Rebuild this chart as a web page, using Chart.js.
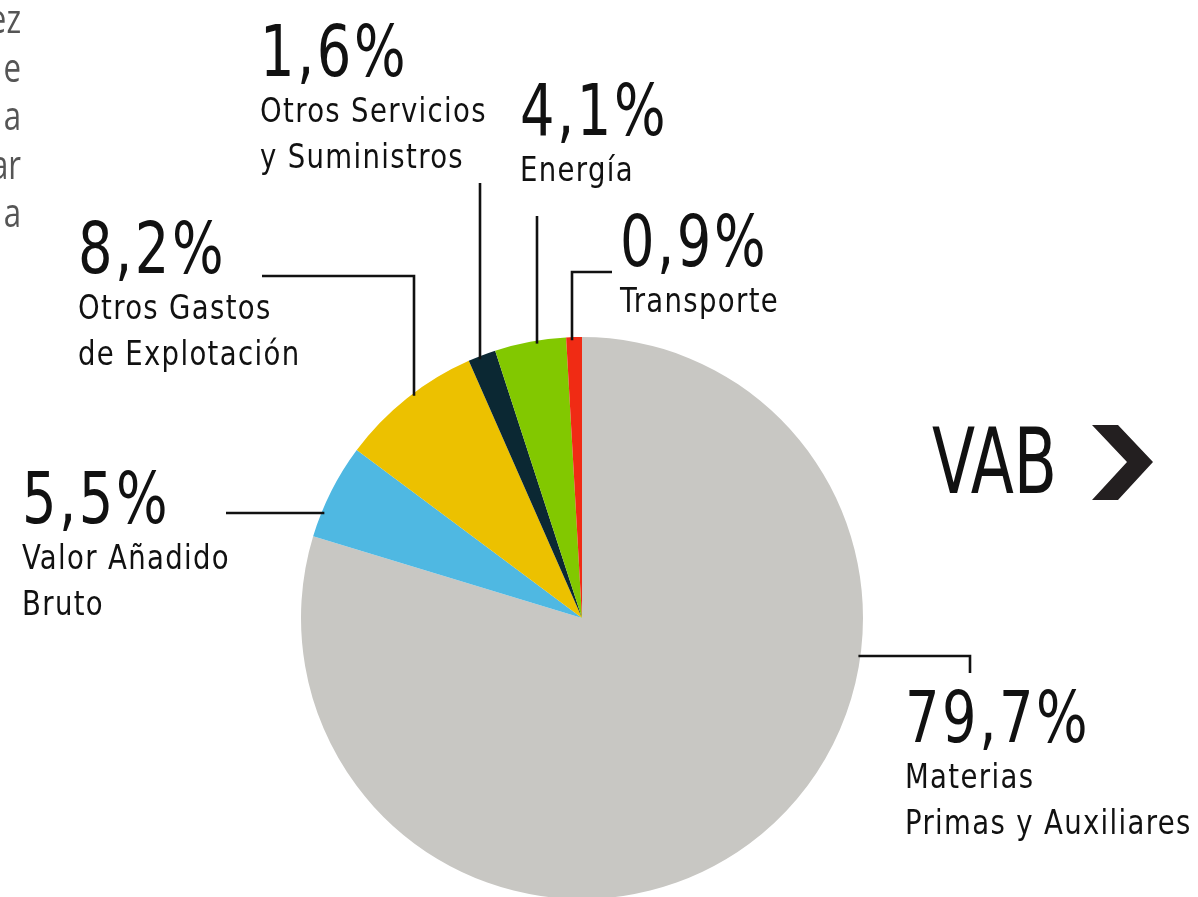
<!DOCTYPE html>
<html><head><meta charset="utf-8">
<script src="https://cdn.jsdelivr.net/npm/chart.js@4.4.1/dist/chart.umd.min.js"></script>
<style>
html,body{margin:0;padding:0;background:#fff;overflow:hidden;width:1198px;height:897px;}
canvas{display:block;}
</style></head>
<body>
<canvas id="c" width="1198" height="960"></canvas>
<script>
// ---- data ----
const categories = ['Materias Primas y Auxiliares','Valor Añadido Bruto','Otros Gastos de Explotación','Otros Servicios y Suministros','Energía','Transporte'];
const values = [79.7, 5.5, 8.2, 1.6, 4.1, 0.9];
const labelLines = [['Materias','Primas y Auxiliares'],['Valor Añadido','Bruto'],['Otros Gastos','de Explotación'],['Otros Servicios','y Suministros'],['Energía'],['Transporte']];
const sideFragments = ['ez','e','a','ar','a'];
const colors = ['#c8c7c3','#4fb8e2','#ecc100','#0b2833','#82c800','#f02b14'];

// ---- annotation layout (positions only) ----
const layout = [
  {tx:905, ty:742, lead:{edge:'right', y:656, pts:[[970,656],[970,673]]}},
  {tx:22,  ty:523, lead:{edge:'left',  y:513, pts:[[226,513]]}},
  {tx:78,  ty:273, lead:{edge:'top',   x:414, pts:[[414,276],[262,276]]}},
  {tx:260, ty:76,  lead:{edge:'top',   x:480, pts:[[480,183]]}},
  {tx:520, ty:135, lead:{edge:'top',   x:537, pts:[[537,216]]}},
  {tx:620, ty:266, lead:{edge:'top',   x:572, pts:[[572,272],[612,272]]}}
];

const fmt = v => v.toFixed(1).replace('.', ',') + '%';
const FONT = '"DejaVu Sans Condensed","Liberation Sans Narrow",sans-serif';

function drawText(ctx, t, x, y, font, sx, spacing, align) {
  ctx.save();
  ctx.font = font; ctx.letterSpacing = spacing + 'px';
  ctx.textAlign = align || 'left';
  ctx.translate(x, y); ctx.scale(sx, 1);
  ctx.fillText(t, 0, 0);
  ctx.restore();
}

const annot = {
  id:'annot',
  afterDraw(chart){
    const ctx = chart.ctx;
    const arc = chart.getDatasetMeta(0).data[0];
    const cx = arc.x, cy = arc.y, r = arc.outerRadius;
    ctx.save();
    // leaders
    ctx.strokeStyle = '#111'; ctx.lineWidth = 2.6; ctx.lineJoin='miter'; ctx.lineCap='butt';
    layout.forEach(l => {
      const L = l.lead; let s;
      if (L.edge === 'top') s = [L.x, cy - Math.sqrt(r*r - (L.x-cx)*(L.x-cx)) + 3];
      else if (L.edge === 'left') s = [cx - Math.sqrt(r*r - (L.y-cy)*(L.y-cy)) + 3, L.y];
      else s = [cx + Math.sqrt(r*r - (L.y-cy)*(L.y-cy)) - 2, L.y];
      ctx.beginPath(); ctx.moveTo(s[0], s[1]);
      L.pts.forEach(p => ctx.lineTo(p[0], p[1]));
      ctx.stroke();
    });
    // labels
    ctx.fillStyle = '#111'; ctx.textBaseline = 'alphabetic';
    values.forEach((v, i) => {
      const l = layout[i];
      drawText(ctx, fmt(v), l.tx, l.ty, '71px ' + FONT, 0.85, 3);
      labelLines[i].forEach((t, j) => drawText(ctx, t, l.tx, l.ty + 46 + j * 46, '34px ' + FONT, 0.9, 1.5));
    });
    // VAB + chevron
    ctx.font = '90px ' + FONT; ctx.letterSpacing = '0px';
    const w = ctx.measureText('VAB').width;
    drawText(ctx, 'VAB', 932, 493, '90px ' + FONT, 125 / w, 0);
    ctx.fillStyle = '#231f20';
    ctx.beginPath();
    ctx.moveTo(1092,425); ctx.lineTo(1118,425); ctx.lineTo(1153,462);
    ctx.lineTo(1118,500); ctx.lineTo(1092,500); ctx.lineTo(1127,462); ctx.closePath(); ctx.fill();
    // side fragments
    ctx.fillStyle = '#555';
    sideFragments.forEach((t, i) => drawText(ctx, t, 21, 33 + i * 48.5, '40px "Open Sans", sans-serif', 0.78, 0, 'right'));
    ctx.restore();
  }
};

new Chart(document.getElementById('c'), {
  type: 'pie',
  data: { labels: categories, datasets: [{ data: values, backgroundColor: colors, borderWidth: 0 }] },
  options: {
    responsive: false, animation: false, devicePixelRatio: 1,
    radius: 281,
    layout: { padding: { left: 301, right: 1198 - 863, top: 337, bottom: 960 - 899 } },
    plugins: { legend: { display: false }, tooltip: { enabled: false } },
    events: []
  },
  plugins: [annot]
});
</script>
</body></html>
